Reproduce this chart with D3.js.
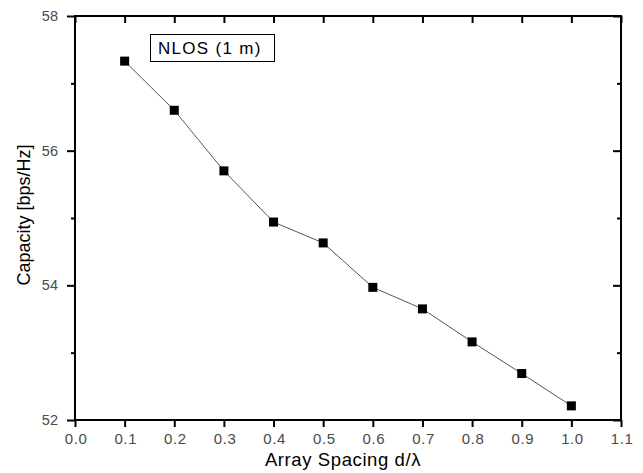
<!DOCTYPE html>
<html>
<head>
<meta charset="utf-8">
<script src="https://cdn.jsdelivr.net/npm/d3@7"></script>
<style>
  html, body { margin: 0; padding: 0; background: #fff; }
  svg { display: block; font-family: "Liberation Sans", Arial, sans-serif; }
</style>
</head>
<body>
<svg id="chart" width="643" height="473"></svg>
<script>
// Array spacing (in wavelengths) and the resulting channel capacity
const spacing = [0.1, 0.2, 0.3, 0.4, 0.5, 0.6, 0.7, 0.8, 0.9, 1.0];
const capacity = [57.33, 56.60, 55.70, 54.94, 54.63, 53.97, 53.65, 53.16, 52.69, 52.21];

const xTicks = [0.0, 0.1, 0.2, 0.3, 0.4, 0.5, 0.6, 0.7, 0.8, 0.9, 1.0, 1.1];
const yTicks = [52, 54, 56, 58];
const yMinorTicks = [53, 55, 57];
const legendLabel = "NLOS (1 m)";
const xTitle = "Array Spacing d/\u03bb";
const yTitle = "Capacity [bps/Hz]";

const svg = d3.select("#chart");
const plotL = 75, plotR = 621, plotT = 16, plotB = 420;

const x = d3.scaleLinear().domain([0, 1.1]).range([plotL, plotR]);
const y = d3.scaleLinear().domain([52, 58]).range([plotB, plotT]);

const tickColor = "#4a4a4a";

function styleAxis(g) {
  g.selectAll("path.domain").remove();
  g.selectAll(".tick line").attr("stroke", "#000").attr("stroke-width", 2);
  g.selectAll(".tick text").attr("fill", tickColor)
    .attr("font-family", "\"Liberation Sans\", Arial, sans-serif");
}

// bottom axis: ticks outward with labels
svg.append("g").attr("transform", `translate(0,${plotB})`)
  .call(d3.axisBottom(x).tickValues(xTicks).tickFormat(d3.format(".1f")).tickSize(7).tickPadding(6))
  .call(styleAxis)
  .call(g => g.selectAll(".tick text").attr("font-size", 15).attr("letter-spacing", 0.6)
    .attr("dx", 0.6));

// top axis: ticks inward, no labels
svg.append("g").attr("transform", `translate(0,${plotT})`)
  .call(d3.axisBottom(x).tickValues(xTicks).tickFormat("").tickSize(7))
  .call(styleAxis);

// left axis: major and minor ticks outward
svg.append("g").attr("transform", `translate(${plotL},0)`)
  .call(d3.axisLeft(y).tickValues(yTicks).tickFormat(d3.format("d")).tickSize(8).tickPadding(9))
  .call(styleAxis)
  .call(g => g.selectAll(".tick text").attr("font-size", 14.5));
svg.append("g").attr("transform", `translate(${plotL},0)`)
  .call(d3.axisLeft(y).tickValues(yMinorTicks).tickFormat("").tickSize(4))
  .call(styleAxis);

// right axis: ticks inward
svg.append("g").attr("transform", `translate(${plotR},0)`)
  .call(d3.axisLeft(y).tickValues(yTicks).tickFormat("").tickSize(8))
  .call(styleAxis);
svg.append("g").attr("transform", `translate(${plotR},0)`)
  .call(d3.axisLeft(y).tickValues(yMinorTicks).tickFormat("").tickSize(4))
  .call(styleAxis);

// frame
svg.append("rect")
  .attr("x", plotL).attr("y", plotT)
  .attr("width", plotR - plotL).attr("height", plotB - plotT)
  .attr("fill", "none").attr("stroke", "#000").attr("stroke-width", 2);

// data line
const pts = spacing.map((s, i) => [s, capacity[i]]);
svg.append("path")
  .datum(pts)
  .attr("fill", "none")
  .attr("stroke", "#555")
  .attr("stroke-width", 1)
  .attr("d", d3.line().x(d => x(d[0])).y(d => y(d[1])));

// square markers
const m = 9;
svg.selectAll("rect.pt").data(pts).enter().append("rect")
  .attr("class", "pt")
  .attr("x", d => x(d[0]) - m / 2)
  .attr("y", d => y(d[1]) - m / 2)
  .attr("width", m).attr("height", m)
  .attr("fill", "#000");

// legend box
const lg = svg.append("g");
lg.append("rect").attr("x", 150.5).attr("y", 34.5).attr("width", 124).attr("height", 27)
  .attr("fill", "#fff").attr("stroke", "#000").attr("stroke-width", 1);
lg.append("text").attr("x", 158).attr("y", 54).attr("text-anchor", "start")
  .attr("font-size", 17).attr("letter-spacing", 1.3).attr("fill", "#000").text(legendLabel);

// axis titles
svg.append("text").attr("x", 343).attr("y", 466)
  .attr("text-anchor", "middle").attr("font-size", 18.5).attr("letter-spacing", 0.6)
  .attr("fill", "#000")
  .text(xTitle);
svg.append("text")
  .attr("transform", `translate(30,215) rotate(-90)`)
  .attr("text-anchor", "middle").attr("font-size", 18).attr("fill", "#000")
  .text(yTitle);
</script>
</body>
</html>
